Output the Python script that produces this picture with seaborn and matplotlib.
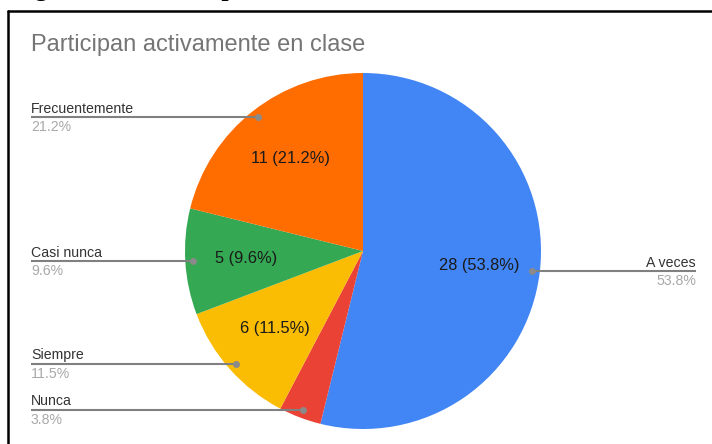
import numpy as np
import matplotlib.pyplot as plt
import seaborn as sns

# === data ===
categorias = ["A veces", "Nunca", "Siempre", "Casi nunca", "Frecuentemente"]
conteos = [28, 2, 6, 5, 11]
colores = ["#4285F4", "#EA4335", "#FBBC04", "#34A853", "#FF6D01"]
titulo = "Participan activamente en clase"
encabezado = "Figura 14 Nivel de presencia activa"

sns.set_theme(style="white")
plt.rcParams["font.family"] = ["Liberation Sans", "DejaVu Sans"]

W, H = 712, 444
fig = plt.figure(figsize=(W / 100, H / 100), dpi=100)
ax = fig.add_axes([0, 0, 1, 1])

total = sum(conteos)
cx, cy, r = 363, H - 251, 178


def etiqueta(p):
    if p < 5:
        return ""
    return f"{int(round(p * total / 100))} ({p:.1f}%)"


wedges, _, autotexts = ax.pie(
    conteos, colors=colores, startangle=90, counterclock=False,
    center=(cx, cy), radius=r, autopct=etiqueta, pctdistance=0.66,
    wedgeprops=dict(linewidth=0), textprops=dict(fontsize=11.8, color="#1a1a1a"),
)

ax.set_xlim(0, W)
ax.set_ylim(0, H)
ax.set_aspect("equal")
ax.axis("off")

# leader lines + labels
for w, nombre, n in zip(wedges, categorias, conteos):
    ang = np.deg2rad((w.theta1 + w.theta2) / 2)
    px = cx + 0.955 * r * np.cos(ang)
    py = cy + 0.955 * r * np.sin(ang)
    if np.cos(ang) < 0:
        x_fin, ha = 31, "left"
    else:
        x_fin, ha = 696, "right"
    ax.plot([x_fin, px], [py, py], color="#808080", lw=1.5, solid_capstyle="butt")
    ax.plot(px, py, "o", color="#8a8a8a", ms=5, mec="none")
    ax.text(x_fin, py + 4.5, nombre, ha=ha, va="baseline", fontsize=10.2, color="#333333")
    ax.text(x_fin, py - 3, f"{n / total * 100:.1f}%", ha=ha, va="top",
            fontsize=10.2, color="#a8a8a8")

# title
ax.text(31, H - 51, titulo, ha="left", va="baseline", fontsize=17, color="#757575")

# document frame and cropped caption
ax.plot([8, 8], [0, H - 11], color="black", lw=1.8, clip_on=False)
ax.plot([8, W], [H - 11, H - 11], color="black", lw=1.8, clip_on=False)
ax.text(12, H + 4.5, encabezado, ha="left", va="baseline", fontsize=18.5,
        fontweight="bold", family=["Liberation Serif", "DejaVu Serif"],
        color="black", clip_on=False)

fig.savefig("out.png", dpi=100)
